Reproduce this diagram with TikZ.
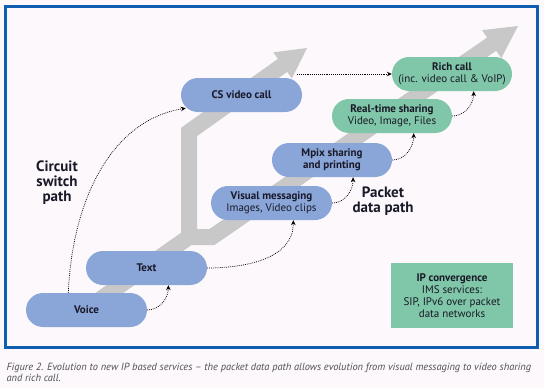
\documentclass[tikz,border=0pt]{standalone}
\usepackage{fontspec}
\setmainfont{PT Sans}
\usetikzlibrary{calc,arrows.meta}
\definecolor{bg}{RGB}{252,248,252}
\definecolor{frameblue}{RGB}{16,94,176}
\definecolor{pillblue}{RGB}{138,165,215}
\definecolor{pillgreen}{RGB}{128,198,168}
\definecolor{bandgray}{RGB}{200,200,200}
\definecolor{txt}{RGB}{25,25,40}
\definecolor{captiongray}{RGB}{80,80,80}
\begin{document}
\begin{tikzpicture}[x=1pt,y=-1pt,
  pill/.style={rectangle, rounded corners=17pt, minimum width=121pt, minimum height=34pt,
    inner sep=0pt, align=center, text=txt, font=\fontsize{11}{12}\selectfont},
  bluepill/.style={pill, fill=pillblue},
  greenpill/.style={pill, fill=pillgreen},
  conn/.style={draw=black, dash pattern=on 0.8pt off 1.1pt, line width=0.75pt,
    -{Stealth[length=5pt,width=4.5pt]}},
  band/.style={draw=bandgray, line width=16pt, line join=miter, miter limit=10},
  bandhead/.style={fill=bandgray},
  pathlabel/.style={align=center, text=txt, font=\fontsize{15}{15}\selectfont\bfseries}]
\fill[bg] (0,0) rectangle (544,388);
\useasboundingbox (0,0) rectangle (544,388);
\draw[frameblue, line width=3pt] (5.5,6.5) rectangle (537,347.5);

% gray evolution arrows
\coordinate (T1) at (518,26);
\coordinate (K1) at (212,237);
\coordinate (B1) at ($(T1)!32pt!(K1)$);
\draw[band] (95,303) -- (189,237) -- (K1) -- ($(T1)!30pt!(K1)$);
\fill[bandhead] (T1) -- ($(B1)!17pt!90:(T1)$) -- ($(B1)!17pt!-90:(T1)$) -- cycle;
\coordinate (T2) at (307,48);
\coordinate (K2) at (189,132);
\coordinate (B2) at ($(T2)!30pt!(K2)$);
\draw[band] (189,240) -- (K2) -- ($(T2)!28pt!(K2)$);
\fill[bandhead] (T2) -- ($(B2)!16pt!90:(T2)$) -- ($(B2)!16pt!-90:(T2)$) -- cycle;

% nodes
\node[bluepill] (voice) at (86.5,310) {\textbf{Voice}};
\node[bluepill] (text) at (146.5,268) {\textbf{Text}};
\node[bluepill] (cs) at (241.5,95) {\textbf{CS video call}};
\node[bluepill] (vis) at (271.5,203) {\textbf{Visual messaging}\\Images, Video clips};
\node[bluepill, minimum width=120pt] (mpix) at (332,160) {\textbf{Mpix sharing}\\\textbf{and printing}};
\node[greenpill, minimum width=120pt] (rt) at (392,116) {\textbf{Real-time sharing}\\Video, Image, Files};
\node[greenpill, minimum width=120pt] (rich) at (452,74) {\textbf{Rich call}\\(inc. video call \& VoIP)};
\node[fill=pillgreen, minimum width=122pt, minimum height=65pt, inner sep=0pt, align=center,
  text=txt, font=\fontsize{11}{12}\selectfont] (ip) at (452,295.5)
  {\textbf{IP convergence}\\IMS services:\\SIP, IPv6 over packet\\data networks};

\node[pathlabel] (csp) at (57,183) {Circuit\\switch\\path};
\node[pathlabel] (pdp) at (383,201.5) {Packet\\data path};

% connectors
\draw[conn] (voice.east) to[out=0,in=-90] ($(text.south west)!0.68!(text.south east)$);
\draw[conn] (text.east) to[out=0,in=-90] ($(vis.south west)!0.68!(vis.south east)$);
\draw[conn] (vis.east) to[out=0,in=-90] ($(mpix.south west)!0.675!(mpix.south east)$);
\draw[conn] (mpix.east) to[out=0,in=-90] ($(rt.south west)!0.68!(rt.south east)$);
\draw[conn] (rt.east) to[out=0,in=-90] ($(rich.south west)!0.68!(rich.south east)$);
\coordinate (vstart) at ($(voice.north west)!0.35!(voice.north east)$);
\coordinate (csend) at ([shift={(5,-4)}]cs.south west);
\draw[conn] (vstart) .. controls +(4,-92) and +(-75,12) .. (csend);
\coordinate (cs2) at (297,74);
\draw[conn] (cs2) -- (rich.west);

% caption
\node[anchor=west, align=left, text=captiongray, font=\fontsize{10.4}{11.5}\selectfont\itshape] (cap) at (3,372.5)
  {Figure 2. Evolution to new IP based services -- the packet data path allows evolution from visual messaging to video sharing\\and rich call.};
\end{tikzpicture}
\end{document}
